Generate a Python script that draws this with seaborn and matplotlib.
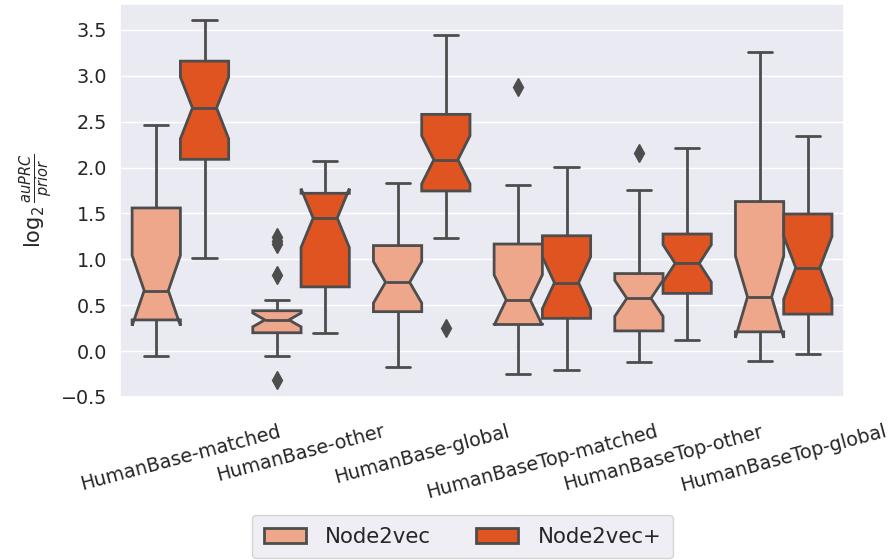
import numpy as np
import pandas as pd
import matplotlib
matplotlib.use("Agg")
import matplotlib.pyplot as plt
import seaborn as sns

sns.set_theme(style="darkgrid", font_scale=1.25)

categories = [
    "HumanBase-matched",
    "HumanBase-other",
    "HumanBase-global",
    "HumanBaseTop-matched",
    "HumanBaseTop-other",
    "HumanBaseTop-global",
]
methods = ["Node2vec", "Node2vec+"]
palette = ["lightsalmon", "orangered"]

# log2(auPRC / prior) per gene set, one list per (dataset, method)
hb_matched_n2v = [-0.05, 0.05, 0.12, 0.18, 0.24, 0.30, 0.34, 0.38, 0.43, 0.49, 0.55, 0.61, 0.66,
                  0.78, 0.89, 1.02, 1.15, 1.36, 1.56, 1.63, 1.71, 1.84, 1.98, 2.21, 2.46]
hb_matched_n2vp = [1.02, 1.35, 1.58, 1.77, 1.91, 2.02, 2.09, 2.18, 2.27, 2.39, 2.48, 2.57, 2.65,
                   2.74, 2.82, 2.90, 2.98, 3.07, 3.16, 3.20, 3.25, 3.31, 3.39, 3.48, 3.61]
hb_other_n2v = [-0.32, -0.05, 0.04, 0.10, 0.14, 0.18, 0.20, 0.22, 0.25, 0.27, 0.30, 0.32, 0.34,
                0.35, 0.37, 0.39, 0.41, 0.43, 0.44, 0.50, 0.56, 0.83, 1.17, 1.20, 1.24]
hb_other_n2vp = [0.20, 0.31, 0.42, 0.51, 0.58, 0.64, 0.70, 0.82, 0.95, 1.08, 1.21, 1.34, 1.45,
                 1.50, 1.55, 1.59, 1.63, 1.68, 1.72, 1.76, 1.81, 1.87, 1.93, 2.00, 2.07]
hb_global_n2v = [-0.17, -0.02, 0.10, 0.21, 0.30, 0.37, 0.43, 0.49, 0.54, 0.60, 0.65, 0.70, 0.75,
                 0.80, 0.86, 0.92, 0.99, 1.07, 1.15, 1.22, 1.31, 1.42, 1.53, 1.66, 1.83]
hb_global_n2vp = [0.25, 1.23, 1.38, 1.50, 1.60, 1.68, 1.745, 1.80, 1.86, 1.92, 1.98, 2.03, 2.085,
                  2.16, 2.24, 2.32, 2.40, 2.49, 2.58, 2.67, 2.78, 2.90, 3.05, 3.23, 3.45]
hbt_matched_n2v = [-0.25, -0.12, -0.01, 0.08, 0.16, 0.23, 0.29, 0.34, 0.39, 0.43, 0.47, 0.51, 0.556,
                   0.63, 0.72, 0.82, 0.93, 1.05, 1.167, 1.26, 1.36, 1.48, 1.62, 1.81, 2.875]
hbt_matched_n2vp = [-0.21, -0.08, 0.03, 0.13, 0.22, 0.30, 0.357, 0.42, 0.48, 0.55, 0.61, 0.68, 0.745,
                    0.82, 0.90, 0.99, 1.08, 1.17, 1.257, 1.34, 1.44, 1.56, 1.69, 1.84, 2.01]
hbt_other_n2v = [-0.12, -0.04, 0.03, 0.09, 0.14, 0.18, 0.22, 0.27, 0.33, 0.39, 0.45, 0.51, 0.575,
                 0.62, 0.66, 0.70, 0.74, 0.79, 0.845, 0.96, 1.10, 1.27, 1.47, 1.76, 2.155]
hbt_other_n2vp = [0.12, 0.24, 0.34, 0.43, 0.51, 0.57, 0.629, 0.68, 0.74, 0.80, 0.85, 0.90, 0.956,
                  1.00, 1.05, 1.10, 1.16, 1.22, 1.276, 1.38, 1.51, 1.66, 1.83, 2.02, 2.21]
hbt_global_n2v = [-0.11, -0.03, 0.04, 0.09, 0.13, 0.17, 0.21, 0.26, 0.32, 0.39, 0.45, 0.52, 0.59,
                  0.72, 0.86, 1.01, 1.17, 1.40, 1.63, 1.84, 2.08, 2.35, 2.64, 2.95, 3.26]
hbt_global_n2vp = [-0.03, 0.06, 0.14, 0.21, 0.28, 0.35, 0.403, 0.48, 0.56, 0.65, 0.74, 0.83, 0.908,
                   1.00, 1.09, 1.18, 1.28, 1.39, 1.494, 1.60, 1.72, 1.85, 1.99, 2.15, 2.34]

series = {
    ("HumanBase-matched", "Node2vec"): hb_matched_n2v,
    ("HumanBase-matched", "Node2vec+"): hb_matched_n2vp,
    ("HumanBase-other", "Node2vec"): hb_other_n2v,
    ("HumanBase-other", "Node2vec+"): hb_other_n2vp,
    ("HumanBase-global", "Node2vec"): hb_global_n2v,
    ("HumanBase-global", "Node2vec+"): hb_global_n2vp,
    ("HumanBaseTop-matched", "Node2vec"): hbt_matched_n2v,
    ("HumanBaseTop-matched", "Node2vec+"): hbt_matched_n2vp,
    ("HumanBaseTop-other", "Node2vec"): hbt_other_n2v,
    ("HumanBaseTop-other", "Node2vec+"): hbt_other_n2vp,
    ("HumanBaseTop-global", "Node2vec"): hbt_global_n2v,
    ("HumanBaseTop-global", "Node2vec+"): hbt_global_n2vp,
}
rows = [
    {"dataset": ds, "method": m, "score": v}
    for (ds, m), vals in series.items()
    for v in vals
]
df = pd.DataFrame(rows)

line_gray = "#4d4d4d"

fig, ax = plt.subplots(figsize=(8.96, 5.6), dpi=100)
fig.subplots_adjust(left=0.134, right=0.942, top=0.9929, bottom=0.2911)

sns.boxplot(
    data=df, x="dataset", y="score", hue="method",
    order=categories, hue_order=methods, palette=palette,
    notch=True, linecolor=line_gray, linewidth=2, fliersize=9,
    flierprops=dict(marker="d", markerfacecolor=line_gray,
                    markeredgecolor=line_gray),
    ax=ax,
)

ax.set_ylim(-0.5, 3.783)
ax.set_xlabel("")
ax.set_ylabel(r"$\log_2\frac{auPRC}{prior}$")
ax.tick_params(axis="x", rotation=15, pad=12)

handles, labels = ax.get_legend_handles_labels()
ax.get_legend().remove()
fig.legend(handles, labels, loc="lower center", ncol=2, fontsize=15.3,
           borderpad=0.55, columnspacing=2.1, handletextpad=0.9,
           bbox_to_anchor=(0.516, 0.003), borderaxespad=0)

fig.savefig("out.png", dpi=100)
